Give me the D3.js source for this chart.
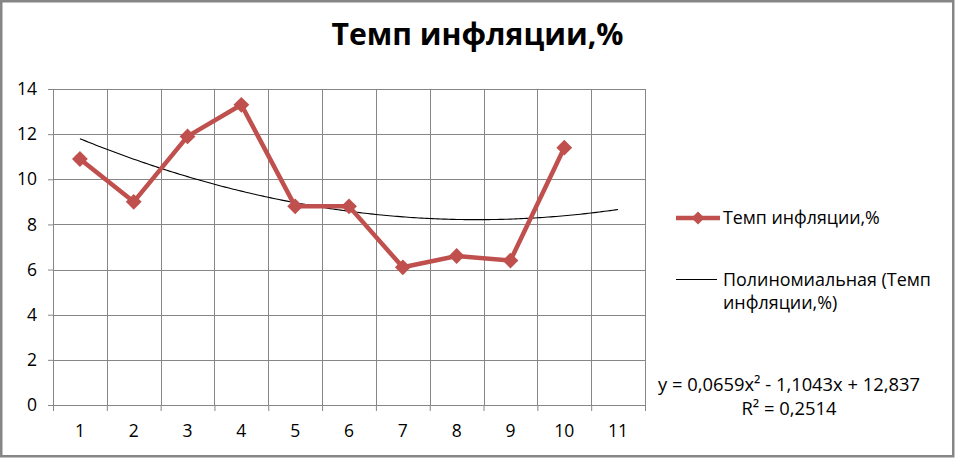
<!DOCTYPE html>
<html><head><meta charset="utf-8">
<script src="https://cdn.jsdelivr.net/npm/d3@7"></script>
<style>
body{margin:0;background:#fff}
text{font-family:"Open Sans","Noto Sans",sans-serif;fill:#000}
</style>
</head><body>
<svg id="c" width="955" height="458"></svg>
<script>
// ---- data ----
const categories = ["1","2","3","4","5","6","7","8","9","10","11"];
const periods = [1,2,3,4,5,6,7,8,9,10];
const inflation = [10.9, 9.0, 11.9, 13.3, 8.8, 8.8, 6.1, 6.6, 6.4, 11.4];
const yTicks = [0,2,4,6,8,10,12,14];
const trendCoefficients = [0.0659, -1.1043, 12.837]; // a*x^2 + b*x + c
const trendRange = [1, 11];
const titleText = "Темп инфляции,%";
const seriesName = "Темп инфляции,%";
const trendNameLines = ["Полиномиальная (Темп", "инфляции,%)"];
const equationLines = ["y = 0,0659x² - 1,1043x + 12,837", "R² = 0,2514"];

// ---- layout ----
const svg = d3.select("#c");
const W = 955, H = 458;
const plot = {left: 53, right: 645, top: 89, bottom: 405};
const red = "#C0504D", grid = "#868686";

svg.append("rect").attr("x",1.25).attr("y",1.25).attr("width",W-3).attr("height",H-3)
  .attr("fill","#fff").attr("stroke",grid).attr("stroke-width",2.5);

const x = d3.scaleBand().domain(categories).range([plot.left, plot.right]).padding(0);
const xEdge = d3.scaleLinear().domain([0, categories.length]).range([plot.left, plot.right]);
const xPos = d3.scaleLinear().domain([1, categories.length])
  .range([x(categories[0]) + x.bandwidth()/2, x(categories[categories.length-1]) + x.bandwidth()/2]);
const y = d3.scaleLinear().domain([0,14]).range([plot.bottom, plot.top]);

function fit(sel, target){
  const n = sel.node(); const fs = parseFloat(sel.attr("font-size"));
  const w = n.getComputedTextLength();
  sel.attr("font-size", (fs*target/w).toFixed(2));
}

// horizontal gridlines
svg.append("g").selectAll("line").data(yTicks).join("line")
  .attr("x1",plot.left).attr("x2",plot.right)
  .attr("y1",d=>Math.round(y(d))+0.5).attr("y2",d=>Math.round(y(d))+0.5)
  .attr("stroke",grid).attr("stroke-width",1);
// vertical gridlines
svg.append("g").selectAll("line").data(d3.range(1, categories.length+1)).join("line")
  .attr("x1",d=>Math.round(xEdge(d))+0.5).attr("x2",d=>Math.round(xEdge(d))+0.5)
  .attr("y1",plot.top).attr("y2",plot.bottom)
  .attr("stroke",grid).attr("stroke-width",1);

// y axis
const yAxis = svg.append("g").attr("transform",`translate(${plot.left},0)`)
  .call(d3.axisLeft(y).tickValues(yTicks).tickSize(5).tickPadding(11).tickFormat(d3.format("d")));
yAxis.selectAll("line,path").attr("stroke",grid);
yAxis.selectAll("text").attr("font-size",17.5).attr("font-family",'"Open Sans",sans-serif').attr("fill","#000");

// x axis ticks at boundaries
const xTicks = svg.append("g").attr("transform",`translate(0,${plot.bottom})`)
  .call(d3.axisBottom(xEdge).tickValues(d3.range(0, categories.length+1)).tickSize(6).tickFormat(""));
xTicks.selectAll("line,path").attr("stroke",grid);
// x labels
const xAxis = svg.append("g").attr("transform",`translate(0,${plot.bottom})`)
  .call(d3.axisBottom(x).tickSize(0).tickPadding(20));
xAxis.select("path").remove();
xAxis.selectAll("text").attr("font-size",17.5).attr("font-family",'"Open Sans",sans-serif').attr("fill","#000");

// trendline
const trendX = d3.range(trendRange[0], trendRange[1] + 0.001, 0.05);
const poly = t => trendCoefficients[0]*t*t + trendCoefficients[1]*t + trendCoefficients[2];
svg.append("path").datum(trendX)
  .attr("d", d3.line().x(t=>xPos(t)).y(t=>y(poly(t))))
  .attr("fill","none").attr("stroke","#000").attr("stroke-width",1.1);

// series line
const pts = periods.map((p,i)=>({p, v: inflation[i]}));
svg.append("path").datum(pts)
  .attr("d", d3.line().x(d=>x(String(d.p))+x.bandwidth()/2).y(d=>y(d.v)))
  .attr("fill","none").attr("stroke",red).attr("stroke-width",4.5).attr("stroke-linejoin","round");
const diamond = d3.symbol().type(d3.symbolSquare).size(125);
svg.append("g").selectAll("path").data(pts).join("path")
  .attr("d", diamond)
  .attr("transform", d=>`translate(${x(String(d.p))+x.bandwidth()/2},${y(d.v)}) rotate(45)`)
  .attr("fill",red);

// title
const title = svg.append("text").attr("x",477.5).attr("y",44.5).attr("text-anchor","middle")
  .attr("font-size",26).attr("font-weight","bold").text(titleText);
fit(title, 292);

// legend
const lg = svg.append("g");
lg.append("line").attr("x1",676).attr("x2",720).attr("y1",218).attr("y2",218)
  .attr("stroke",red).attr("stroke-width",4.5);
lg.append("path").attr("d", d3.symbol().type(d3.symbolSquare).size(85))
  .attr("transform","translate(698,218) rotate(45)").attr("fill",red);
const l1 = lg.append("text").attr("x",723).attr("y",224).attr("font-size",17).text(seriesName);
fit(l1, 157);
lg.append("line").attr("x1",676).attr("x2",717).attr("y1",279.5).attr("y2",279.5)
  .attr("stroke","#000").attr("stroke-width",1.1);
const l2 = lg.append("text").attr("x",723).attr("y",286).attr("font-size",17).text(trendNameLines[0]);
fit(l2, 208);
lg.append("text").attr("x",723).attr("y",308.5).attr("font-size",l2.attr("font-size")).text(trendNameLines[1]);

// equation
const e1 = svg.append("text").attr("x",789).attr("y",391).attr("text-anchor","middle")
  .attr("font-size",17).text(equationLines[0]);
fit(e1, 262);
svg.append("text").attr("x",789).attr("y",414.5).attr("text-anchor","middle")
  .attr("font-size",e1.attr("font-size")).text(equationLines[1]);
</script>
</body></html>
